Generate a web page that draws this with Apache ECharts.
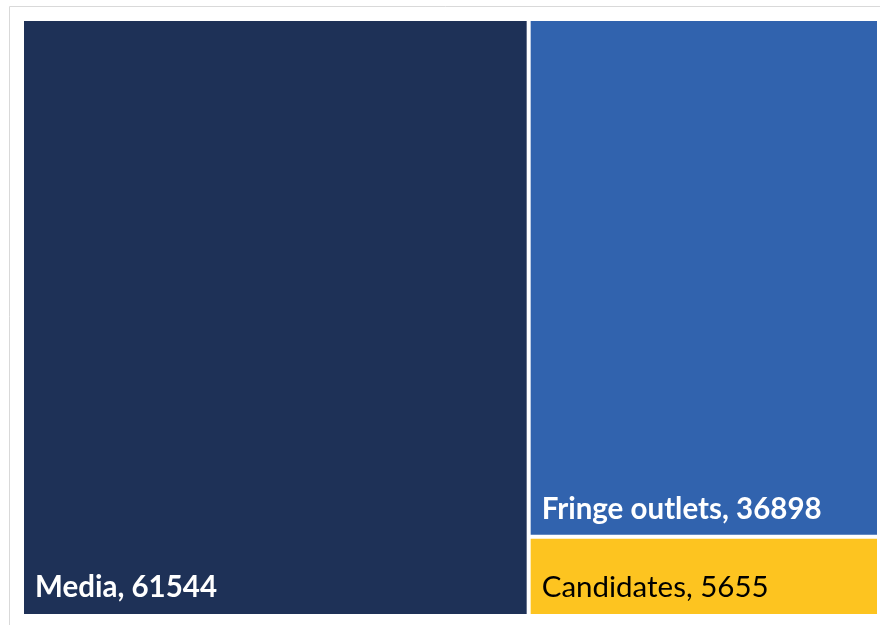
<!DOCTYPE html>
<html><head><meta charset="utf-8">
<script src="https://cdn.jsdelivr.net/npm/echarts@6/dist/echarts.min.js"></script>
<style>html,body{margin:0;padding:0;background:#fff}#c{width:880px;height:625px}</style>
</head><body><div id="c"></div>
<script>
const categories = ["Media", "Fringe outlets", "Candidates"];
const values = [61544, 36898, 5655];
const colors = ["#1E3157", "#3163AE", "#FDC420"];
const labelColors = ["#ffffff", "#ffffff", "#000000"];
const labelWeights = ["bold", "bold", "normal"];
const labelBottomPad = [12, 10, 12];

const chart = echarts.init(document.getElementById('c'));
chart.setOption({
  animation: false,
  graphic: [{
    type: 'rect', left: 7, top: 4, shape: {width: 890, height: 640},
    style: {fill: 'none', stroke: '#D9D9D9', lineWidth: 1}, silent: true, z: -10
  }],
  series: [{
    type: 'treemap',
    left: 24, top: 21, width: 853, height: 593,
    roam: false, nodeClick: false,
    breadcrumb: {show: false},
    squareRatio: 1,
    sort: 'desc',
    levels: [{itemStyle: {gapWidth: 4, borderWidth: 0}}],
    emphasis: {disabled: true},
    data: categories.map((n, i) => ({
      name: n, value: values[i],
      itemStyle: {color: colors[i], borderWidth: 0},
      label: {
        show: true, position: 'insideBottomLeft', distance: 0,
        padding: [0, 0, labelBottomPad[i], 11],
        formatter: '{b}, {c}',
        color: labelColors[i], fontWeight: labelWeights[i],
        fontFamily: 'Lato', fontSize: 29.5
      }
    }))
  }]
});
</script></body></html>
